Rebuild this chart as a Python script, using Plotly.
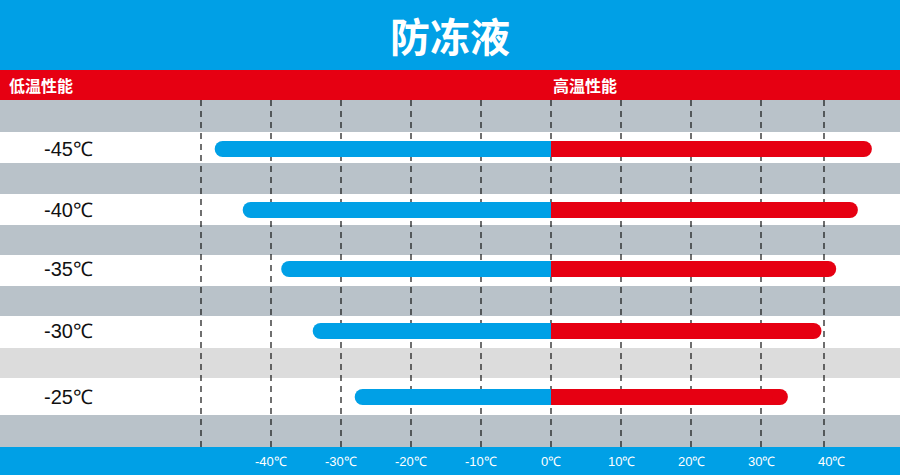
import plotly.graph_objects as go

# data
rows = ["-45℃", "-40℃", "-35℃", "-30℃", "-25℃"]
low_ends = [-48, -44, -38.5, -34, -28]
high_ends = [45.8, 43.8, 40.7, 38.6, 33.8]
tick_vals = [-40, -30, -20, -10, 0, 10, 20, 30, 40]
tick_text = ["-40℃", "-30℃", "-20℃", "-10℃", "0℃", "10℃", "20℃", "30℃", "40℃"]
grid_vals = [-50, -40, -30, -20, -10, 0, 10, 20, 30, 39]

BLUE = "#00a0e6"
RED = "#e60012"
GRAY = "#b9c2c9"
LIGHT = "#dcdcdc"

row_y = [149, 210, 269, 331, 397]
px = 7.0  # pixels per degree
x0 = -551 / px
x1 = (900 - 551) / px

fig = go.Figure()
shapes = []
# header bands
shapes.append(dict(type="rect", xref="paper", yref="y", x0=0, x1=1, y0=0, y1=70, fillcolor=BLUE, line_width=0, layer="below"))
shapes.append(dict(type="rect", xref="paper", yref="y", x0=0, x1=1, y0=70, y1=100, fillcolor=RED, line_width=0, layer="below"))
# stripes
bands = [(100, 132, GRAY), (163, 194, GRAY), (225, 255, GRAY), (286, 316, GRAY), (348, 378, LIGHT), (415, 447, GRAY)]
for a, b, c in bands:
    shapes.append(dict(type="rect", xref="paper", yref="y", x0=0, x1=1, y0=a, y1=b, fillcolor=c, line_width=0, layer="below"))
shapes.append(dict(type="rect", xref="paper", yref="y", x0=0, x1=1, y0=447, y1=475, fillcolor=BLUE, line_width=0, layer="below"))
# dashed grid
for g in grid_vals:
    shapes.append(dict(type="line", xref="x", yref="y", x0=g, x1=g, y0=100, y1=447,
                       line=dict(color="#111", width=1.2, dash="6px,5px"), layer="below"))

for y, lo, hi in zip(row_y, low_ends, high_ends):
    fig.add_trace(go.Scatter(x=[lo + 1.1, 0], y=[y, y], mode="lines", line=dict(color=BLUE, width=16), hoverinfo="skip"))
    fig.add_trace(go.Scatter(x=[lo + 1.1], y=[y], mode="markers", marker=dict(color=BLUE, size=16, line_width=0), hoverinfo="skip"))
    fig.add_trace(go.Scatter(x=[0, hi - 1.1], y=[y, y], mode="lines", line=dict(color=RED, width=16), hoverinfo="skip"))
    fig.add_trace(go.Scatter(x=[hi - 1.1], y=[y], mode="markers", marker=dict(color=RED, size=16, line_width=0), hoverinfo="skip"))

ann = [
    dict(text="<b>防冻液</b>", x=0.5, xref="paper", y=35, yref="y", showarrow=False,
         font=dict(size=40, color="white", family="Noto Sans CJK SC")),
    dict(text="<b>低温性能</b>", x=0.008, xref="paper", xanchor="left", y=85, yref="y", showarrow=False,
         font=dict(size=16, color="white", family="Noto Sans CJK SC")),
    dict(text="<b>高温性能</b>", x=0, xref="x", xanchor="left", y=85, yref="y", showarrow=False,
         font=dict(size=16, color="white", family="Noto Sans CJK SC")),
]
for r, y in zip(rows, row_y):
    ann.append(dict(text=r, x=0.047, xref="paper", xanchor="left", y=y, yref="y", showarrow=False,
                    font=dict(size=20, color="#111", family="Liberation Sans Narrow, Arial")))
for v, t in zip(tick_vals, tick_text):
    ann.append(dict(text=t, x=v, xref="x", y=461, yref="y", showarrow=False,
                    font=dict(size=13, color="white", family="Liberation Sans Narrow, Arial")))

fig.update_layout(
    width=900, height=475, margin=dict(l=0, r=0, t=0, b=0),
    showlegend=False, plot_bgcolor="white", paper_bgcolor="white",
    xaxis=dict(range=[x0, x1], visible=False, fixedrange=True),
    yaxis=dict(range=[475, 0], visible=False, fixedrange=True),
    shapes=shapes, annotations=ann,
)
fig.write_html("out.html", config={"displayModeBar": False},
               post_script="document.body.style.margin='0';document.body.style.overflow='hidden';")
